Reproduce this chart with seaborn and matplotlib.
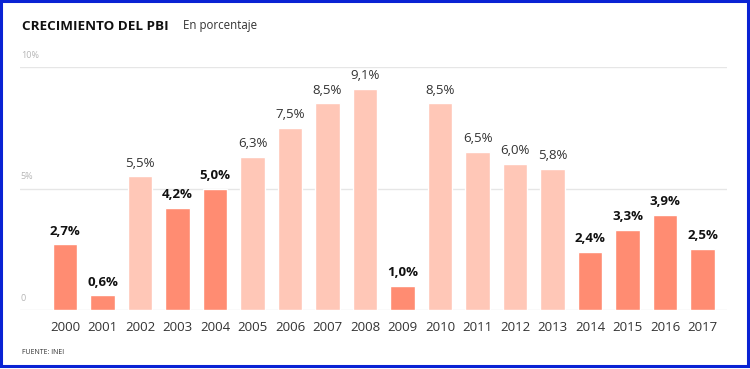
import matplotlib
matplotlib.use("Agg")
import matplotlib.pyplot as plt
import seaborn as sns
import pandas as pd
from matplotlib.patches import Rectangle

# data
years = ["2000", "2001", "2002", "2003", "2004", "2005", "2006", "2007", "2008",
         "2009", "2010", "2011", "2012", "2013", "2014", "2015", "2016", "2017"]
growth = [2.7, 0.6, 5.5, 4.2, 5.0, 6.3, 7.5, 8.5, 9.1,
          1.0, 8.5, 6.5, 6.0, 5.8, 2.4, 3.3, 3.9, 2.5]
highlight = [True, True, False, True, True, False, False, False, False,
             True, False, False, False, False, True, True, True, True]
y_ticks = [0, 5, 10]
y_tick_labels = ["0", "5%", "10%"]

DARK = "#FF8C72"
LIGHT = "#FFC7B7"

df = pd.DataFrame({"year": years, "growth": growth,
                   "group": ["dark" if h else "light" for h in highlight]})

sns.set_style("white")
plt.rcParams["font.family"] = ["Open Sans", "DejaVu Sans"]

fig = plt.figure(figsize=(7.5, 3.69), dpi=100)
ax = fig.add_axes([20 / 750, (369 - 310) / 369, (727 - 20) / 750, (310 - 67) / 369])

sns.barplot(data=df, x="year", y="growth", hue="group",
            palette={"dark": DARK, "light": LIGHT}, dodge=False,
            saturation=1, width=0.66, legend=False, ax=ax, zorder=3)

ax.set_xlim(-1.2, 17.65)
ax.set_ylim(0, 10)

# gridlines + custom tick labels
for t, lab in zip(y_ticks, y_tick_labels):
    ax.axhline(t, color="#e6e6e6", lw=1, zorder=1)
    ax.text(-1.18, t + 0.3, lab, ha="left", va="bottom",
            fontsize=6.5, color="#b5b5b5")

# value labels
for i, (v, h) in enumerate(zip(growth, highlight)):
    lab = f"{v:.1f}%".replace(".", ",")
    ax.text(i, v + 0.28, lab, ha="center", va="bottom", fontsize=9.5,
            fontweight="bold" if h else "normal",
            color="#111111" if h else "#333333")

ax.set_yticks([])
ax.set_xlabel("")
ax.set_ylabel("")
ax.tick_params(axis="x", length=0, pad=8, labelsize=9.5, labelcolor="#333333")
sns.despine(ax=ax, left=True, bottom=True)

# titles
fig.text(22 / 750, 1 - 26 / 369, "CRECIMIENTO DEL PBI", fontsize=9.7,
         fontweight="bold", color="#111111", va="center", ha="left")
fig.text(183 / 750, 1 - 26 / 369, "En porcentaje", fontsize=8.3,
         color="#333333", va="center", ha="left")
fig.text(22 / 750, 1 - 352 / 369, "FUENTE: INEI", fontsize=5,
         color="#333333", va="center", ha="left")

# blue frame
fig.patches.append(Rectangle((1 / 750, 3 / 369), 747 / 750, 365 / 369,
                             transform=fig.transFigure, fill=False,
                             edgecolor="#0A23D4", lw=2.2))

fig.savefig("out.png", dpi=100)
